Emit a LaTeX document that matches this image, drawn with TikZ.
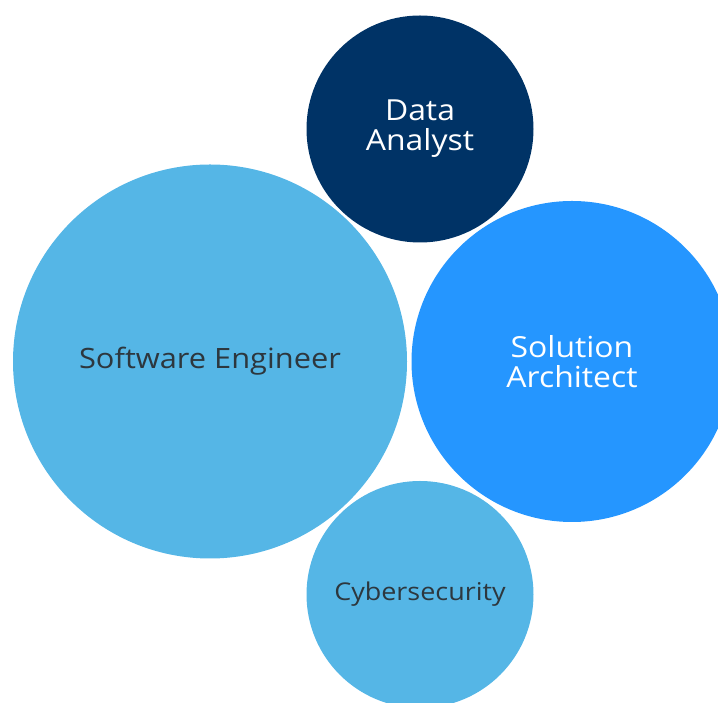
\documentclass[tikz,border=0pt]{standalone}
\usepackage{fontspec}
\setmainfont[FakeStretch=1.1]{Open Sans}
\definecolor{navy}{RGB}{0,51,102}
\definecolor{brightblue}{RGB}{37,150,255}
\definecolor{lightblue}{RGB}{85,182,230}
\definecolor{darktext}{RGB}{45,55,62}
\begin{document}
\begin{tikzpicture}[x=1pt,y=1pt,
  bubble/.style={circle,inner sep=0pt,align=center,text=white}]
\useasboundingbox (0,0) rectangle (718,703);
\begin{scope}
\clip (0,0) rectangle (718,703);
\node[bubble,fill=lightblue,minimum size=394pt,text=darktext,font=\fontsize{28}{34}\selectfont] (se) at (210,341.5) {Software Engineer};
\node[bubble,fill=navy,minimum size=227pt,font=\fontsize{29}{30}\selectfont] (da) at (420,574) {Data\\Analyst};
\node[bubble,fill=brightblue,minimum size=321pt,font=\fontsize{29}{29.5}\selectfont] (sa) at (572,341.5) {Solution\\Architect};
\node[bubble,fill=lightblue,minimum size=227pt,text=darktext,font=\fontsize{24.5}{28}\selectfont] (cy) at (420,108.5) {Cybersecurity};
\end{scope}
\end{tikzpicture}
\end{document}
